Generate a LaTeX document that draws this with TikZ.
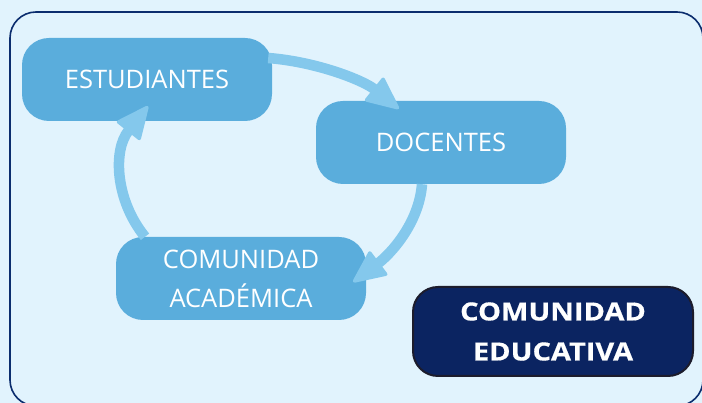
\documentclass[tikz,border=0pt]{standalone}
\usepackage{fontspec}
\setmainfont{Open Sans}
\usetikzlibrary{arrows.meta,calc}
\definecolor{bg}{HTML}{E1F3FD}
\definecolor{boxblue}{HTML}{5AADDC}
\definecolor{arrowblue}{HTML}{84C8EC}
\definecolor{navy}{HTML}{0B2461}
\definecolor{framenavy}{HTML}{0B2D6E}
\definecolor{edgedark}{HTML}{1C1C2C}
\begin{document}
\begin{tikzpicture}[x=1pt,y=1pt,
  cyclebox/.style={fill=boxblue, rounded corners=27pt, minimum width=250pt,
    minimum height=83pt, text=white, font=\fontsize{25.5}{39}\selectfont,
    align=center, inner sep=0pt},
  edubox/.style={fill=navy, draw=edgedark, line width=2pt, rounded corners=25pt,
    minimum width=280pt, minimum height=89pt, text=white,
    font=\fontsize{25}{40}\selectfont\bfseries\addfontfeatures{FakeStretch=1.16,FakeBold=0.6},
    align=center, inner sep=0pt},
  flow/.style={draw=arrowblue, line width=10.5pt,
    -{Triangle[width=31pt,length=35pt,round,line width=3.5pt]}}]
\fill[bg] (0,0) rectangle (702,403);
\useasboundingbox (0,0) rectangle (702,403);
\begin{scope}
\clip (0,0) rectangle (702,403);
\draw[framenavy, line width=1.6pt, rounded corners=26pt] (10,-3) rectangle (703,391);
\end{scope}
\node[cyclebox] (est) at (147,323.5) {ESTUDIANTES};
\node[cyclebox] (doc) at (441,260.5) {DOCENTES};
\node[cyclebox] (aca) at (241,124.5) {COMUNIDAD\\ACADÉMICA};
\node[edubox] (edu) at (553,71.5) {COMUNIDAD\\EDUCATIVA};
\draw[flow] ($(est.east)+(-4,21.5)$) .. controls +(50,-4) and +(-35,28) .. ($(doc.north west)+(83,-8)$);
\draw[flow] ($(doc.south)+(-19,0)$) .. controls +(-3,-40) and +(36,27) .. ($(aca.east)+(-13,-3.5)$);
\draw[flow] ($(aca.north)+(-96,0)$) .. controls +(-30,37) and +(-35,-44) .. ($(est.south)+(1,15)$);
\end{tikzpicture}
\end{document}
